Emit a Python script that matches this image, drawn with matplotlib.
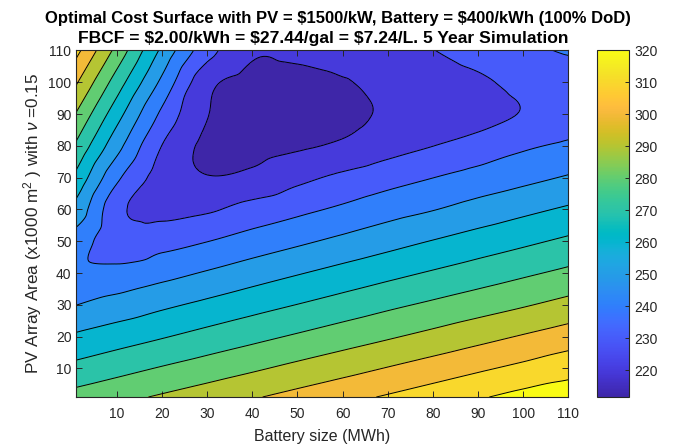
import numpy as np
import matplotlib
matplotlib.use("Agg")
import matplotlib.pyplot as plt
import matplotlib.tri as mtri
from matplotlib.colors import Normalize
import matplotlib.cm as cm

# ---------------- data ----------------
battery_mwh = [1, 10, 20, 30, 40, 50, 60, 70, 80, 90, 100, 110]
pv_area = [1, 10, 20, 30, 40, 50, 60, 70, 80, 90, 100, 110]

# cost surface, rows follow pv_area, columns follow battery_mwh
cost_y1 = [278.6, 282.2, 286.2, 290.1, 294.1, 298.1, 302.1, 306.0, 310.0, 314.0, 317.9, 320.0]
cost_y10 = [268.0, 271.7, 275.8, 279.7, 283.6, 287.6, 291.5, 295.5, 299.5, 303.5, 307.4, 311.4]
cost_y20 = [256.6, 260.3, 264.3, 268.4, 272.3, 276.2, 280.1, 283.9, 287.8, 291.8, 295.8, 299.8]
cost_y30 = [244.9, 248.8, 253.1, 257.2, 261.3, 265.2, 269.1, 273.0, 276.7, 280.4, 284.1, 288.1]
cost_y40 = [237.7, 237.9, 241.8, 245.9, 250.2, 254.3, 258.3, 262.2, 266.0, 269.7, 273.4, 277.1]
cost_y50 = [240.0, 229.5, 231.3, 234.8, 239.1, 243.2, 247.3, 251.4, 255.4, 259.3, 263.0, 266.8]
cost_y60 = [251.7, 228.0, 222.5, 223.8, 228.6, 232.6, 236.7, 241.0, 244.6, 248.7, 252.6, 256.4]
cost_y70 = [262.4, 237.0, 221.0, 215.5, 217.2, 222.6, 227.0, 231.1, 234.9, 238.8, 242.3, 245.9]
cost_y80 = [273.3, 248.5, 224.8, 213.0, 212.3, 213.8, 216.5, 221.2, 224.9, 228.7, 233.5, 236.7]
cost_y90 = [284.3, 259.0, 233.0, 215.4, 212.0, 211.6, 212.2, 216.5, 219.6, 221.8, 225.5, 229.0]
cost_y100 = [296.0, 270.2, 242.7, 218.0, 212.2, 212.2, 214.2, 218.2, 220.6, 223.5, 227.5, 229.5]
cost_y110 = [307.9, 281.9, 252.9, 229.0, 216.5, 217.5, 220.8, 221.6, 224.8, 228.8, 232.7, 236.0]

contour_levels = [215, 225, 235, 245, 255, 265, 275, 285, 295, 305, 315]
color_limits = [211.6, 320.0]
cbar_ticks = [220, 230, 240, 250, 260, 270, 280, 290, 300, 310, 320]
axis_ticks = [10, 20, 30, 40, 50, 60, 70, 80, 90, 100, 110]

# ---------------- parula colormap ----------------
parula_rgb = [
    [0.2422, 0.1504, 0.6603], [0.2504, 0.1650, 0.7076], [0.2578, 0.1818, 0.7511],
    [0.2647, 0.1978, 0.7952], [0.2706, 0.2147, 0.8364], [0.2751, 0.2342, 0.8710],
    [0.2783, 0.2559, 0.8991], [0.2803, 0.2782, 0.9221], [0.2813, 0.3006, 0.9414],
    [0.2810, 0.3228, 0.9579], [0.2795, 0.3447, 0.9717], [0.2760, 0.3667, 0.9829],
    [0.2699, 0.3892, 0.9906], [0.2602, 0.4123, 0.9952], [0.2440, 0.4358, 0.9988],
    [0.2206, 0.4603, 0.9973], [0.1963, 0.4847, 0.9892], [0.1834, 0.5074, 0.9798],
    [0.1786, 0.5289, 0.9682], [0.1764, 0.5499, 0.9520], [0.1687, 0.5703, 0.9359],
    [0.1540, 0.5902, 0.9218], [0.1460, 0.6091, 0.9079], [0.1380, 0.6276, 0.8973],
    [0.1248, 0.6459, 0.8883], [0.1113, 0.6635, 0.8763], [0.0952, 0.6798, 0.8598],
    [0.0689, 0.6948, 0.8394], [0.0297, 0.7082, 0.8163], [0.0036, 0.7203, 0.7917],
    [0.0067, 0.7312, 0.7660], [0.0433, 0.7411, 0.7394], [0.0964, 0.7500, 0.7120],
    [0.1408, 0.7584, 0.6842], [0.1717, 0.7670, 0.6554], [0.1938, 0.7758, 0.6251],
    [0.2161, 0.7843, 0.5923], [0.2470, 0.7918, 0.5567], [0.2906, 0.7973, 0.5188],
    [0.3406, 0.8008, 0.4789], [0.3909, 0.8029, 0.4354], [0.4456, 0.8024, 0.3909],
    [0.5044, 0.7993, 0.3480], [0.5616, 0.7942, 0.3045], [0.6174, 0.7876, 0.2612],
    [0.6720, 0.7793, 0.2227], [0.7242, 0.7698, 0.1910], [0.7738, 0.7598, 0.1646],
    [0.8203, 0.7498, 0.1535], [0.8634, 0.7406, 0.1596], [0.9035, 0.7330, 0.1774],
    [0.9393, 0.7288, 0.2100], [0.9728, 0.7298, 0.2394], [0.9956, 0.7434, 0.2371],
    [0.9970, 0.7659, 0.2199], [0.9952, 0.7893, 0.2028], [0.9892, 0.8136, 0.1885],
    [0.9786, 0.8386, 0.1766], [0.9676, 0.8639, 0.1643], [0.9610, 0.8890, 0.1537],
    [0.9597, 0.9135, 0.1423], [0.9628, 0.9373, 0.1265], [0.9691, 0.9606, 0.1064],
    [0.9769, 0.9839, 0.0805],
]
parula = matplotlib.colors.LinearSegmentedColormap.from_list("parula", parula_rgb, N=256)

plt.rcParams["font.family"] = ["Liberation Sans", "DejaVu Sans"]
plt.rcParams["mathtext.fontset"] = "custom"
plt.rcParams["mathtext.rm"] = "Liberation Sans"
plt.rcParams["mathtext.it"] = "Liberation Sans:italic"
text_color = "#262626"

Z = np.array([cost_y1, cost_y10, cost_y20, cost_y30, cost_y40, cost_y50,
              cost_y60, cost_y70, cost_y80, cost_y90, cost_y100, cost_y110])
X, Y = np.meshgrid(battery_mwh, pv_area)
norm = Normalize(vmin=color_limits[0], vmax=color_limits[1])

tri = mtri.Triangulation(X.ravel(), Y.ravel())
interp = mtri.CubicTriInterpolator(tri, Z.ravel(), kind="geom")
refiner = mtri.UniformTriRefiner(tri)
tri_f, z_f = refiner.refine_field(Z.ravel(), triinterpolator=interp, subdiv=4)

fig = plt.figure(figsize=(6.73, 4.48), dpi=100)
ax = fig.add_axes([0.1134, 0.1138, 0.7310, 0.7735])
cax = fig.add_axes([0.887, 0.1138, 0.0483, 0.7735])

ax.tricontourf(tri_f, z_f, levels=contour_levels, cmap=parula, norm=norm, extend="both")
ax.tricontour(tri_f, z_f, levels=contour_levels, colors="k", linewidths=0.7)

ax.set_xlim(battery_mwh[0], battery_mwh[-1])
ax.set_ylim(pv_area[0], pv_area[-1])
ax.set_xticks(axis_ticks)
ax.set_yticks(axis_ticks)
ax.tick_params(direction="in", top=True, right=True, length=4, width=0.7,
               labelsize=10, colors=text_color)
ax.tick_params(axis="x", pad=7)
for s in ax.spines.values():
    s.set_color(text_color)
    s.set_linewidth(0.8)

ax.set_xlabel("Battery size (MWh)", fontsize=11.5, color=text_color, labelpad=6)
ax.set_ylabel(r"PV Array Area (x1000 m$^2$ ) with $\nu$ =0.15", fontsize=12.3,
              color=text_color, labelpad=3)

fig.text(338 / 673, 1 - 18 / 448,
         "Optimal Cost Surface with PV = \\$1500/kW, Battery = \\$400/kWh (100% DoD)",
         ha="center", va="center", fontsize=12, fontweight="bold", color="black")
fig.text(323 / 673, 1 - 38.5 / 448,
         "FBCF = \\$2.00/kWh = \\$27.44/gal = \\$7.24/L. 5 Year Simulation",
         ha="center", va="center", fontsize=12.6, fontweight="bold", color="black")

cb = fig.colorbar(cm.ScalarMappable(norm=norm, cmap=parula), cax=cax)
cb.set_ticks(cbar_ticks)
cb.ax.tick_params(direction="in", length=3, width=0.7, labelsize=10, colors=text_color,
                  right=True, left=False)
cb.outline.set_edgecolor(text_color)
cb.outline.set_linewidth(0.8)

fig.savefig("out.png", dpi=100)
